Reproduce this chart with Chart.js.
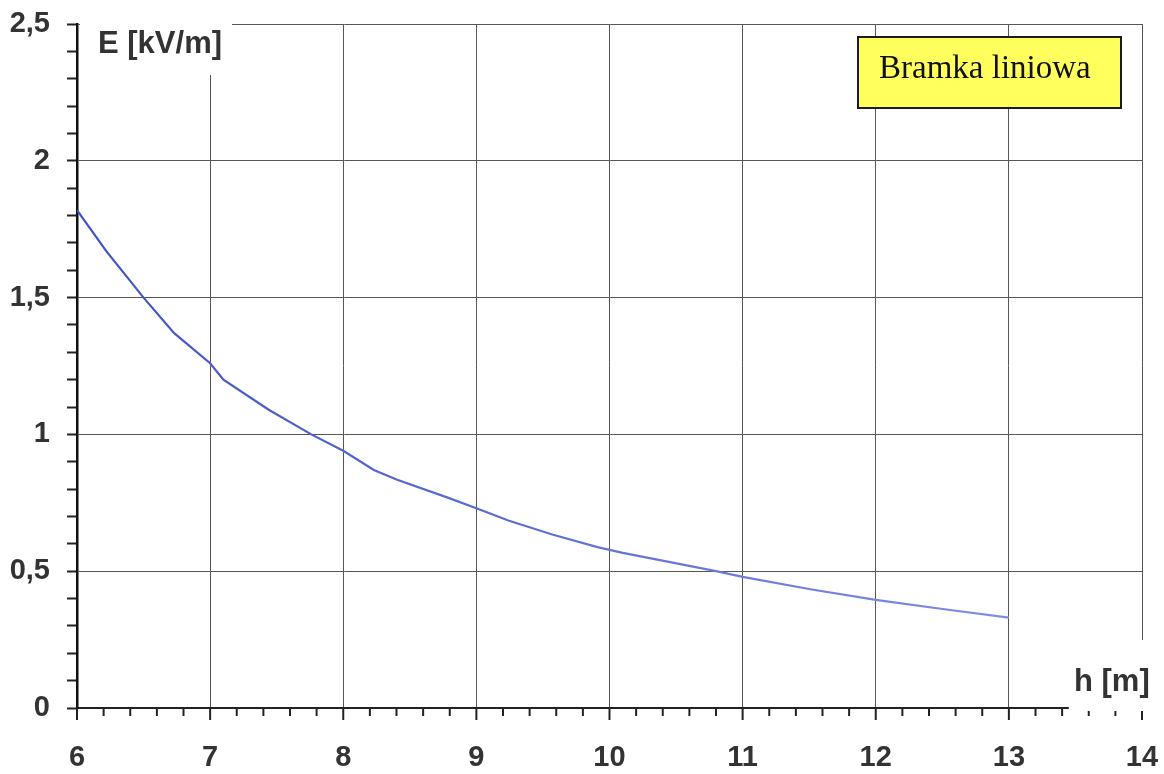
<!DOCTYPE html>
<html>
  <head>
    <meta charset="utf-8">
    <title>Bramka liniowa</title>
    <style>
      body { margin: 0; background: #fff; }
      #wrap { width: 1164px; height: 774px; }
    </style>
  </head>
  <body>
    <div id="wrap"><canvas id="MyCanvas" width="1164" height="774"></canvas></div>
    <script src="https://cdn.jsdelivr.net/npm/chart.js@4/dist/chart.umd.min.js"></script>
    <script>
      // h [m] -> E [kV/m]
      const heights = [6, 6.22, 6.5, 6.73, 7, 7.1, 7.44, 7.76, 8, 8.23, 8.4, 8.79, 9, 9.24, 9.57, 9.91, 10.1, 10.8, 11, 11.52, 12, 12.53, 13];
      const field = [1.82, 1.67, 1.50, 1.37, 1.26, 1.20, 1.09, 1.00, 0.94, 0.87, 0.835, 0.768, 0.73, 0.685, 0.634, 0.588, 0.567, 0.50, 0.479, 0.433, 0.395, 0.36, 0.33];
      const xTicks = [6, 7, 8, 9, 10, 11, 12, 13, 14];
      const yTicks = [0, 0.5, 1, 1.5, 2, 2.5];
      const legendText = 'Bramka liniowa';
      const yTitle = 'E [kV/m]';
      const xTitle = 'h [m]';

      const isMajorX = v => xTicks.some(t => Math.abs(t - v) < 1e-6);
      const isMajorY = v => yTicks.some(t => Math.abs(t - v) < 1e-6);
      const labelFont = { family: 'Liberation Sans, Arial', size: 29, weight: 'bold' };

      const extras = {
        id: 'extras',
        afterDraw(chart) {
          const c = chart.ctx, a = chart.chartArea, xs = chart.scales.x;
          c.save();
          // podziałka osi x (dłuższe kreski przy liczbach całkowitych)
          c.strokeStyle = '#222';
          c.lineWidth = 2;
          xs.ticks.forEach(t => {
            const px = xs.getPixelForValue(t.value);
            const len = isMajorX(t.value) ? 12 : 8;
            c.beginPath();
            c.moveTo(px, a.bottom);
            c.lineTo(px, a.bottom + len);
            c.stroke();
          });
          // białe tło pod opisami osi
          c.fillStyle = '#fff';
          c.fillRect(a.left + 3, 0, 152, 75);
          c.fillRect(xs.getPixelForValue(13.45), 640, 120, a.bottom + 3 - 640);
          c.fillStyle = '#333';
          c.font = 'bold 31px "Liberation Sans", Arial';
          c.textBaseline = 'alphabetic';
          c.textAlign = 'left';
          c.fillText(yTitle, a.left + 21, 53);
          c.fillText(xTitle, 1074, 691);
          // legenda
          c.fillStyle = '#ffff5e';
          c.strokeStyle = '#1a1a1a';
          c.lineWidth = 2;
          c.fillRect(858, 37, 263, 71);
          c.strokeRect(858, 37, 263, 71);
          c.fillStyle = '#111';
          c.font = '33px "Liberation Serif", "Times New Roman", serif';
          c.fillText(legendText, 879, 78);
          c.restore();
        }
      };

      const ctx = document.getElementById('MyCanvas').getContext('2d');
      const myChart = new Chart(ctx, {
        type: 'line',
        data: {
          datasets: [{
            label: legendText,
            data: heights.map((h, i) => ({ x: h, y: field[i] })),
            borderColor: (context) => {
              const area = context.chart.chartArea;
              if (!area) return '#4a5cc8';
              const g = context.chart.ctx.createLinearGradient(area.left, 0, area.right, 0);
              g.addColorStop(0, '#3e52c4');
              g.addColorStop(1, '#8a96e6');
              return g;
            },
            borderWidth: 2.2,
            pointRadius: 0,
            tension: 0,
            fill: false
          }]
        },
        options: {
          responsive: false,
          animation: false,
          layout: { padding: { top: 24, right: 22, left: 0, bottom: 0 } },
          plugins: { legend: { display: false }, tooltip: { enabled: false } },
          scales: {
            x: {
              type: 'linear',
              min: 6,
              max: 14,
              afterFit: s => { s.height = 66; s.paddingLeft = 0; s.paddingRight = 0; },
              ticks: {
                stepSize: 0.2,
                autoSkip: false,
                maxRotation: 0,
                padding: 21,
                color: '#333',
                font: labelFont,
                callback: v => isMajorX(v) ? String(Math.round(v)) : ''
              },
              grid: {
                color: c => (c.tick && isMajorX(c.tick.value) && c.tick.value > 6) ? '#555' : 'transparent',
                tickColor: 'transparent',
                tickLength: 12,
                lineWidth: 1
              },
              border: { color: '#222', width: 2 }
            },
            y: {
              min: 0,
              max: 2.5,
              afterFit: s => { s.width = 77; s.paddingTop = 0; s.paddingBottom = 0; },
              ticks: {
                stepSize: 0.1,
                autoSkip: false,
                padding: 17,
                color: '#333',
                font: labelFont,
                callback: v => isMajorY(v) ? String(Math.round(v * 10) / 10).replace('.', ',') : ''
              },
              grid: {
                color: c => (c.tick && isMajorY(c.tick.value) && c.tick.value > 0) ? '#555' : 'transparent',
                tickColor: '#222',
                tickLength: 10,
                lineWidth: 1,
                tickWidth: 2
              },
              border: { color: '#111', width: 2.5 }
            }
          }
        },
        plugins: [extras]
      });
    </script>
  </body>
</html>
